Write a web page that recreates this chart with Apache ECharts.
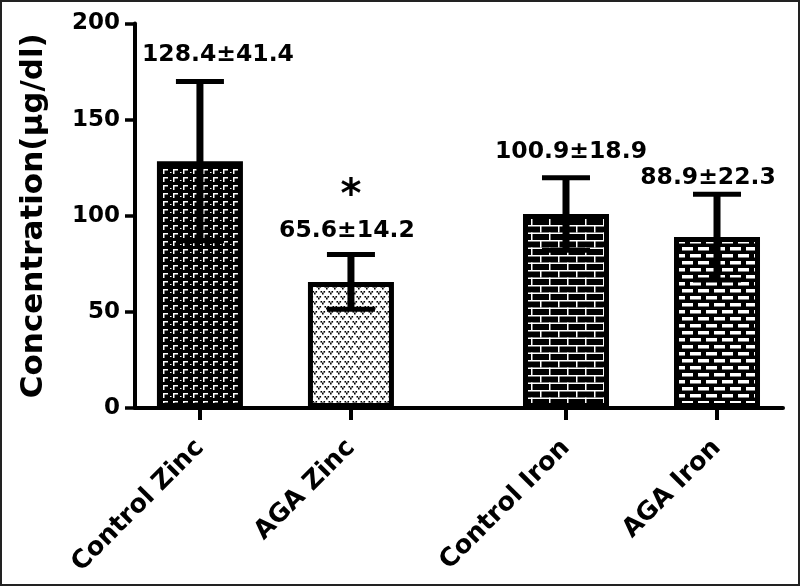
<!DOCTYPE html>
<html>
<head>
<meta charset="utf-8">
<script src="https://cdn.jsdelivr.net/npm/echarts@6/dist/echarts.min.js"></script>
<style>
  html, body { margin: 0; padding: 0; background: #fff; }
  #chart { width: 800px; height: 586px; }
</style>
</head>
<body>
<div id="chart"></div>
<script>
// ---------------- DATA ----------------
const categories = ['Control Zinc', 'AGA Zinc', 'Control Iron', 'AGA Iron'];
const means = [128.4, 65.6, 100.9, 88.9];
const sds = [41.4, 14.2, 18.9, 22.3];
const significance = ['', '*', '', ''];
const yTickValues = [0, 50, 100, 150, 200];
const yAxisTitle = 'Concentration(µg/dl)';

// ---------------- LAYOUT ----------------
const X_START = 0.43;      // first bar offset from y axis (in bar-step units)
const GROUP_GAP = 0.424;   // extra gap between Zinc and Iron groups
const X_MAX = 4.291;
const LABEL_DX = [18, -4, 5, -9];
const LABEL_DY = [-27, -24, -26, -16];
const STAR_DY = -58;
const xPos = categories.map((c, i) => X_START + i + (i >= 2 ? GROUP_GAP : 0));

// ---------------- PATTERNS ----------------
function makePattern(w, h, draw) {
  const c = document.createElement('canvas');
  c.width = w; c.height = h;
  const ctx = c.getContext('2d');
  draw(ctx, w, h);
  return c;
}
const patControlZinc = makePattern(10, 8, (ctx, w, h) => {
  ctx.fillStyle = '#000'; ctx.fillRect(0, 0, w, h);
  ctx.fillStyle = '#fff';
  ctx.fillRect(3, 1, 5, 1.5);
  ctx.fillRect(3, 1, 1.5, 5);
  ctx.fillRect(0, 4, 1.5, 1);
});
const patAgaZinc = makePattern(8, 10, (ctx, w, h) => {
  ctx.fillStyle = '#fff'; ctx.fillRect(0, 0, w, h);
  ctx.fillStyle = '#000';
  const v = (x, y) => { ctx.fillRect(x, y, 1.6, 1.6); ctx.fillRect(x + 3, y, 1.6, 1.6); ctx.fillRect(x + 1.5, y + 1.5, 1.6, 2); };
  v(0.5, 1); v(4.5, 6);
  v(-3.5, 6);
});
const patControlIron = makePattern(18, 15, (ctx, w, h) => {
  ctx.fillStyle = '#000'; ctx.fillRect(0, 0, w, h);
  ctx.fillStyle = '#fff';
  ctx.fillRect(0, 0, w, 1.5);
  ctx.fillRect(0, 7.5, w, 1.5);
  ctx.fillRect(0, 0, 1.5, 7.5);
  ctx.fillRect(9, 7.5, 1.5, 7.5);
});
const patAgaIron = makePattern(16, 14, (ctx, w, h) => {
  ctx.fillStyle = '#000'; ctx.fillRect(0, 0, w, h);
  ctx.fillStyle = '#fff';
  ctx.fillRect(2, 2, 11, 3.5);
  ctx.fillRect(10, 9, 11, 3.5);
  ctx.fillRect(-6, 9, 11, 3.5);
});
const patterns = [patControlZinc, patAgaZinc, patControlIron, patAgaIron];

// ---------------- CHART ----------------
const FONT = '"DejaVu Sans", "Liberation Sans", Arial, sans-serif';
const chart = echarts.init(document.getElementById('chart'), null, { renderer: 'canvas' });

function nearestIndex(v) {
  let best = 0, bd = Infinity;
  xPos.forEach((p, i) => { const d = Math.abs(p - v); if (d < bd) { bd = d; best = i; } });
  return best;
}

const option = {
  animation: false,
  backgroundColor: '#fff',
  grid: { left: 135, right: 17, top: 23.5, bottom: 178, containLabel: false },
  xAxis: {
    type: 'value',
    min: 0,
    max: X_MAX,
    splitLine: { show: false },
    axisLine: { show: true, onZero: false, lineStyle: { color: '#000', width: 4 } },
    axisTick: { show: true, customValues: xPos, length: 12, lineStyle: { color: '#000', width: 4 } },
    axisLabel: {
      show: true,
      customValues: xPos,
      rotate: 45,
      margin: 36,
      color: '#000',
      fontFamily: FONT,
      fontWeight: 'bold',
      fontSize: 25.5,
      formatter: v => categories[nearestIndex(v)]
    }
  },
  yAxis: {
    type: 'value',
    min: yTickValues[0],
    max: yTickValues[yTickValues.length - 1],
    interval: yTickValues[1] - yTickValues[0],
    name: yAxisTitle,
    nameLocation: 'middle',
    nameGap: 86,
    nameRotate: 90,
    nameTextStyle: { color: '#000', fontFamily: FONT, fontWeight: 'bold', fontSize: 31 },
    splitLine: { show: false },
    axisLine: { show: true, lineStyle: { color: '#000', width: 4 } },
    axisTick: { show: true, length: 10, lineStyle: { color: '#000', width: 3.5 } },
    axisLabel: { color: '#000', fontFamily: FONT, fontWeight: 'bold', fontSize: 23, margin: 15 }
  },
  graphic: [{
    type: 'rect', silent: true, z: 100,
    shape: { x: 1, y: 1, width: 798, height: 584 },
    style: { fill: null, stroke: '#222', lineWidth: 2 }
  }],
  series: [
    {
      type: 'bar',
      barWidth: 86,
      data: categories.map((c, i) => ({
        value: [xPos[i], means[i]],
        itemStyle: { color: { image: patterns[i], repeat: 'repeat' }, borderColor: '#000', borderWidth: 5 }
      })),
      z: 2
    },
    {
      type: 'custom',
      clip: false,
      z: 5,
      data: categories.map((c, i) => [xPos[i], means[i], sds[i]]),
      encode: { x: 0, y: 1 },
      renderItem: function (params, api) {
        const i = params.dataIndex;
        const x = api.value(0), m = api.value(1), s = api.value(2);
        const top = api.coord([x, m + s]);
        const bot = api.coord([x, m - s]);
        const cx = top[0];
        const capHalf = 24;
        const children = [
          { type: 'line', shape: { x1: cx, y1: top[1], x2: cx, y2: bot[1] }, style: { stroke: '#000', lineWidth: 7 } },
          { type: 'line', shape: { x1: cx - capHalf, y1: top[1], x2: cx + capHalf, y2: top[1] }, style: { stroke: '#000', lineWidth: 5 } },
          { type: 'line', shape: { x1: cx - capHalf, y1: bot[1], x2: cx + capHalf, y2: bot[1] }, style: { stroke: '#000', lineWidth: 5 } },
          {
            type: 'text', x: cx + LABEL_DX[i], y: top[1] + LABEL_DY[i],
            style: {
              text: means[i].toFixed(1) + '±' + sds[i].toFixed(1),
              fill: '#000', font: 'bold 23.5px ' + FONT, align: 'center', verticalAlign: 'middle'
            }
          }
        ];
        if (significance[i]) {
          children.push({
            type: 'text', x: cx, y: top[1] + STAR_DY,
            style: { text: significance[i], fill: '#000', font: 'bold 40px ' + FONT, align: 'center', verticalAlign: 'middle' }
          });
        }
        return { type: 'group', children };
      }
    }
  ]
};
chart.setOption(option);
</script>
</body>
</html>
